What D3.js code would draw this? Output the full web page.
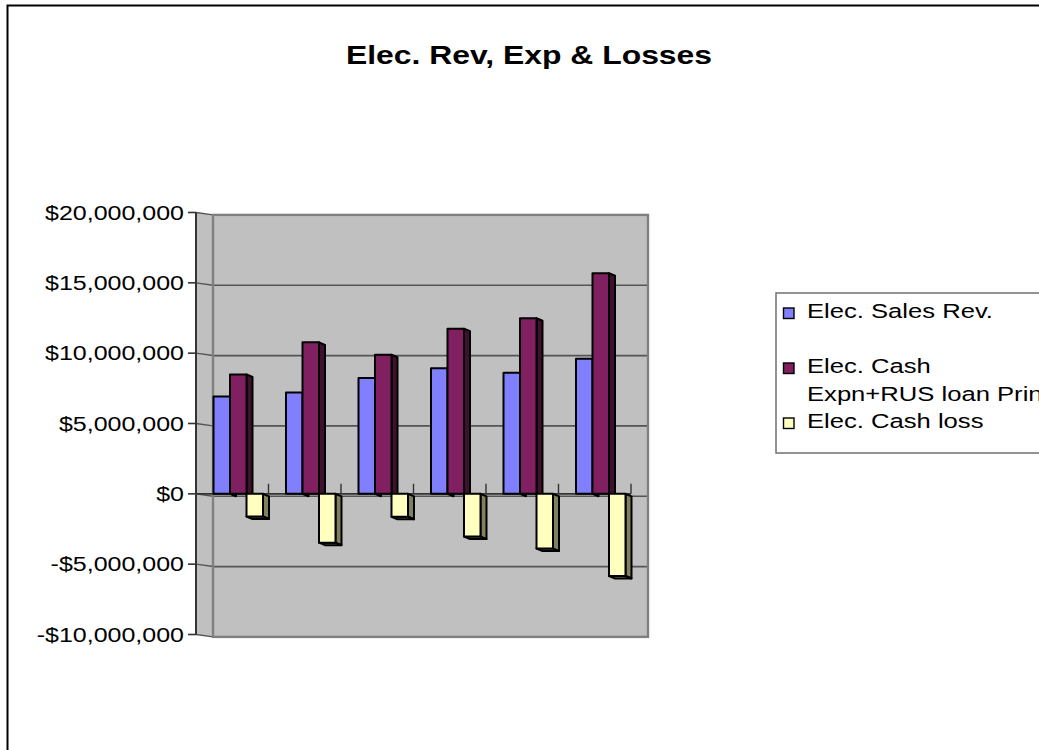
<!DOCTYPE html>
<html>
<head>
<meta charset="utf-8">
<script src="https://cdn.jsdelivr.net/npm/d3@7"></script>
<style>
  html, body { margin: 0; padding: 0; background: #fff; }
  svg { display: block; font-family: "Liberation Sans", Arial, sans-serif; }
</style>
</head>
<body>
<svg id="chart" width="1039" height="750"></svg>
<script>
// ---- data ----
const categories = ["P1", "P2", "P3", "P4", "P5", "P6"];
const seriesNames = ["Elec. Sales Rev.", "Elec. Cash Expn+RUS loan Principal", "Elec. Cash loss"];
const salesRev = [6920000, 7200000, 8230000, 8920000, 8610000, 9610000];
const cashExpn = [8490000, 10770000, 9890000, 11740000, 12480000, 15680000];
const cashLoss = [-1610000, -3470000, -1630000, -3040000, -3890000, -5840000];
const tickValues = [20000000, 15000000, 10000000, 5000000, 0, -5000000, -10000000];
const tickLabels = ["$20,000,000", "$15,000,000", "$10,000,000", "$5,000,000", "$0", "-$5,000,000", "-$10,000,000"];
const legendLines = [["Elec. Sales Rev."], ["Elec. Cash", "Expn+RUS loan Principal"], ["Elec. Cash loss"]];

const seriesValues = [salesRev, cashExpn, cashLoss];
const fills = ["#8080FF", "#802060", "#FFFFC0"];
const sideFills = ["#40407F", "#40102F", "#808060"];

const svg = d3.select("#chart");
const SX = 1.25; // horizontal text stretch

function stretchedText(g, x, y, str, opts = {}) {
  return g.append("text")
    .attr("transform", `translate(${x},${y}) scale(${SX},1)`)
    .attr("text-anchor", opts.anchor || "start")
    .attr("font-size", opts.size || 20)
    .attr("font-weight", opts.weight || "normal")
    .attr("fill", "#000")
    .text(str);
}

// ---- frame ----
svg.append("rect")
  .attr("x", 7.5).attr("y", 5.5).attr("width", 1100).attr("height", 800)
  .attr("fill", "#fff").attr("stroke", "#000").attr("stroke-width", 2);

stretchedText(svg, 529, 64, "Elec. Rev, Exp & Losses", { anchor: "middle", size: 25.5, weight: "bold" });

// ---- 3D geometry ----
const xLeft = 196, xRight = 631;
const depth = { dx: 17, dy: 2.4 };
const yFront = d3.scaleLinear().domain([-10000000, 20000000]).range([634.5, 212.5]);
const yBack = v => yFront(v) + depth.dy;
const x = d3.scaleBand().domain(categories).range([xLeft, xRight]).padding(0);
const xs = d3.scaleBand().domain(seriesNames).range([0, 49.5]).padding(0);
const groupOffset = 17.5;
const barDepth = { dx: 6, dy: 2.5 };

const plot = svg.append("g");

// side wall
plot.append("polygon")
  .attr("points", [
    [xLeft, yFront(20000000)], [xLeft + depth.dx, yBack(20000000)],
    [xLeft + depth.dx, yBack(-10000000)], [xLeft, yFront(-10000000)]
  ].map(p => p.join(",")).join(" "))
  .attr("fill", "#C0C0C0");

// back wall
plot.append("rect")
  .attr("x", xLeft + depth.dx).attr("y", yBack(20000000))
  .attr("width", xRight - xLeft).attr("height", yBack(-10000000) - yBack(20000000))
  .attr("fill", "#C0C0C0");

// gridlines on back wall and side wall
tickValues.forEach(v => {
  plot.append("line")
    .attr("x1", xLeft + depth.dx).attr("x2", xRight + depth.dx)
    .attr("y1", yBack(v)).attr("y2", yBack(v))
    .attr("stroke", "#555").attr("stroke-width", 1.7);
  plot.append("line")
    .attr("x1", xLeft).attr("x2", xLeft + depth.dx)
    .attr("y1", yFront(v)).attr("y2", yBack(v))
    .attr("stroke", "#555").attr("stroke-width", 1.4);
});

// wall edges
plot.append("rect")
  .attr("x", xLeft + depth.dx).attr("y", yBack(20000000))
  .attr("width", xRight - xLeft).attr("height", yBack(-10000000) - yBack(20000000))
  .attr("fill", "none").attr("stroke", "#808080").attr("stroke-width", 2.4);

// floor front edge at zero
plot.append("line")
  .attr("x1", xLeft).attr("x2", xRight)
  .attr("y1", yFront(0)).attr("y2", yFront(0))
  .attr("stroke", "#333").attr("stroke-width", 1.8);

// category ticks along the floor
categories.forEach(c => {
  const bx = x(c) + x.bandwidth();
  plot.append("line")
    .attr("x1", bx).attr("x2", bx)
    .attr("y1", yFront(0) - 10).attr("y2", yFront(0))
    .attr("stroke", "#333").attr("stroke-width", 1.4);
});

// ---- bars ----
const bars = plot.append("g");
const pts = arr => arr.map(p => p.join(",")).join(" ");
categories.forEach((c, i) => {
  seriesNames.forEach((s, j) => {
    const v = seriesValues[j][i];
    const x0 = x(c) + groupOffset + xs(s);
    const w = xs.bandwidth();
    const y0 = yFront(0), y1 = yFront(v);
    const top = Math.min(y0, y1), bot = Math.max(y0, y1);
    const g = bars.append("g").attr("stroke", "#000").attr("stroke-width", 2).attr("stroke-linejoin", "round");
    // right side face
    g.append("polygon")
      .attr("points", pts([[x0 + w, top], [x0 + w + barDepth.dx, top + barDepth.dy],
                           [x0 + w + barDepth.dx, bot + barDepth.dy], [x0 + w, bot]]))
      .attr("fill", sideFills[j]);
    // bottom face for bars hanging below zero
    if (v < 0) {
      g.append("polygon")
        .attr("points", pts([[x0, bot], [x0 + w, bot],
                             [x0 + w + barDepth.dx, bot + barDepth.dy], [x0 + barDepth.dx, bot + barDepth.dy]]))
        .attr("fill", sideFills[j]);
    }
    // front face
    g.append("rect")
      .attr("x", x0).attr("y", top).attr("width", w).attr("height", bot - top)
      .attr("fill", fills[j]);
  });
});

// ---- value axis ----
const axis = svg.append("g");
axis.append("line")
  .attr("x1", xLeft).attr("x2", xLeft)
  .attr("y1", yFront(20000000)).attr("y2", yFront(-10000000))
  .attr("stroke", "#333").attr("stroke-width", 2);
tickValues.forEach((v, k) => {
  axis.append("line")
    .attr("x1", xLeft - 8).attr("x2", xLeft)
    .attr("y1", yFront(v)).attr("y2", yFront(v))
    .attr("stroke", "#333").attr("stroke-width", 1.6);
  stretchedText(axis, 184, yFront(v) + 7, tickLabels[k], { anchor: "end", size: 20 });
});

// ---- legend ----
const legend = svg.append("g");
legend.append("rect")
  .attr("x", 776).attr("y", 293).attr("width", 400).attr("height", 160)
  .attr("fill", "#fff").attr("stroke", "#707070").attr("stroke-width", 1.5);
const rowBase = [317.5, 372.5, 427.5];
legendLines.forEach((lines, j) => {
  legend.append("rect")
    .attr("x", 783.5).attr("y", rowBase[j] - 9.5).attr("width", 10.5).attr("height", 10.5)
    .attr("fill", fills[j]).attr("stroke", "#000").attr("stroke-width", 1.4);
  lines.forEach((ln, m) => {
    stretchedText(legend, 807, rowBase[j] + m * 28, ln, { size: 20.5 });
  });
});
</script>
</body>
</html>
